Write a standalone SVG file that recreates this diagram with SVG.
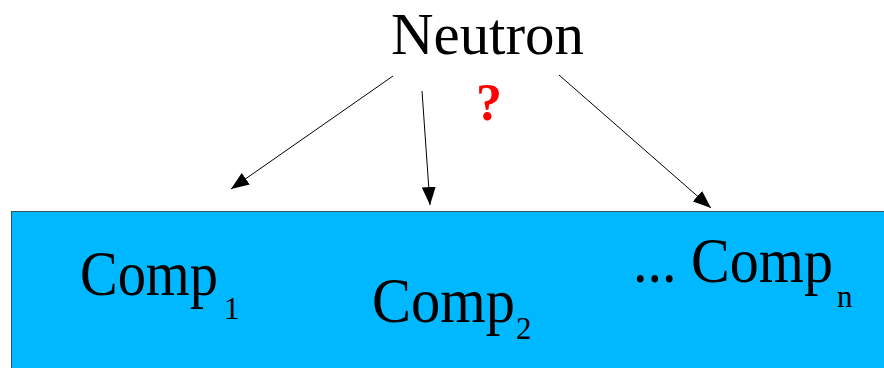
<svg xmlns="http://www.w3.org/2000/svg" width="884" height="368" viewBox="0 0 884 368">
  <style>
    .t { font-family: "Liberation Serif", "Times New Roman", serif; fill: #000; }
    .big { font-size: 64px; }
    .nt { font-size: 60px; }
    .sub { font-size: 31px; }
    .q { font-family: "Liberation Serif", "Times New Roman", serif; font-size: 52px; font-weight: bold; fill: #ff0000; }
    .edge { stroke: #000; stroke-width: 1; fill: none; marker-end: url(#ah); }
  </style>
  <defs>
    <marker id="ah" markerUnits="userSpaceOnUse" markerWidth="18" markerHeight="14" refX="18" refY="7" orient="auto">
      <path d="M0,0 L18,7 L0,14 z" fill="#000"/>
    </marker>
  </defs>
  <rect width="884" height="368" fill="#fff"/>
  <g id="compartments">
    <rect x="11.5" y="211.5" width="880" height="170" fill="#00b8ff" stroke="#2f5566" stroke-width="1"/>
    <g id="comp1">
      <text class="t big" transform="translate(80,295) scale(0.882,1)">Comp</text>
      <text class="t sub" x="224" y="319">1</text>
    </g>
    <g id="comp2">
      <text class="t big" transform="translate(372,322) scale(0.914,1)">Comp</text>
      <text class="t sub" x="516" y="339">2</text>
    </g>
    <g id="compn">
      <text class="t big" transform="translate(633,282) scale(0.907,1)">... Comp</text>
      <text class="t sub" x="837" y="307">n</text>
    </g>
  </g>
  <g id="neutron">
    <text class="t nt" x="391" y="54" textLength="193" lengthAdjust="spacingAndGlyphs">Neutron</text>
  </g>
  <g id="question">
    <text class="q" x="476" y="120">?</text>
  </g>
  <g id="connectors">
    <line class="edge" x1="393" y1="76" x2="231" y2="189"/>
    <line class="edge" x1="422" y1="91" x2="430" y2="205"/>
    <line class="edge" x1="559" y1="75" x2="711" y2="208"/>
  </g>
</svg>
